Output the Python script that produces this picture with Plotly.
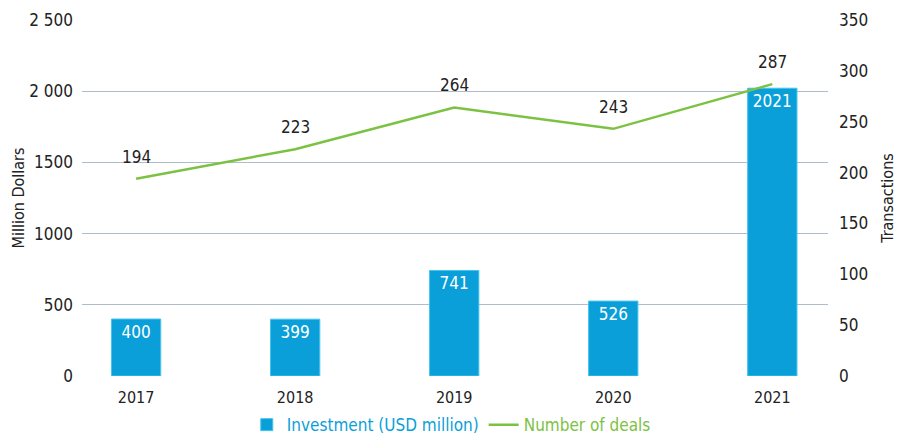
import plotly.graph_objects as go

years = ["2017", "2018", "2019", "2020", "2021"]
investment = [400, 399, 741, 526, 2021]
deals = [194, 223, 264, 243, 287]
left_ticks = [0, 500, 1000, 1500, 2000, 2500]
left_tick_text = ["0", "500", "1000", "1500", "2 000", "2 500"]
right_ticks = [0, 50, 100, 150, 200, 250, 300, 350]

BLUE = "#0a9fd9"
GREEN = "#7cc242"
FONT = "DejaVu Sans Condensed, Liberation Sans Narrow, Roboto, Arial"

fig = go.Figure()

fig.add_trace(go.Bar(
    x=years, y=investment,
    name=f"<span style='color:{BLUE}'>Investment (USD million)</span>",
    marker=dict(color=BLUE, line=dict(color="#45c4ef", width=1)),
    width=0.31,
    text=[str(v) for v in investment],
    textposition="inside", insidetextanchor="end",
    textfont=dict(color="white", size=17, family=FONT),
    cliponaxis=False,
))

fig.add_trace(go.Scatter(
    x=years, y=deals, yaxis="y2", mode="lines",
    name=f"<span style='color:{GREEN}'>Number of deals</span>",
    line=dict(color=GREEN, width=2.5),
    cliponaxis=False,
))

# value labels above each point of the deals line (x given as category index)
for i, d in enumerate(deals):
    fig.add_annotation(x=i, y=d, xref="x", yref="y2", text=str(d),
                       showarrow=False, yanchor="bottom", yshift=10,
                       font=dict(color="#222222", size=17, family=FONT))

fig.update_layout(
    width=903, height=436,
    margin=dict(l=82, r=75, t=20, b=60, autoexpand=False),
    plot_bgcolor="white", paper_bgcolor="white",
    font=dict(family=FONT, size=16, color="#222222"),
    bargap=0.5,
    showlegend=True,
    legend=dict(orientation="h", x=0.495, xanchor="center",
                yref="container", y=0.025, yanchor="middle",
                font=dict(size=17, family=FONT), itemwidth=30, traceorder="normal"),
    xaxis=dict(type="category", range=[-0.34, 4.35], showgrid=False, showline=False,
               ticks="", tickfont=dict(size=16), automargin=False, ticklabelstandoff=10),
    yaxis=dict(range=[0, 2500], tickvals=left_ticks, ticktext=left_tick_text,
               showgrid=True, gridcolor="#aebccb", gridwidth=1, zeroline=False,
               showline=False, ticks="", ticklabelstandoff=8, automargin=False,
               tickfont=dict(size=17),
               title=dict(text="Million Dollars", font=dict(size=16), standoff=0)),
    yaxis2=dict(range=[0, 350], tickvals=right_ticks, overlaying="y", side="right",
                showgrid=False, zeroline=False, showline=False, ticks="",
                ticklabelstandoff=10, automargin=False, tickfont=dict(size=17),
                title=dict(text="Transactions", font=dict(size=16), standoff=14)),
)

fig.write_html("out.html")
